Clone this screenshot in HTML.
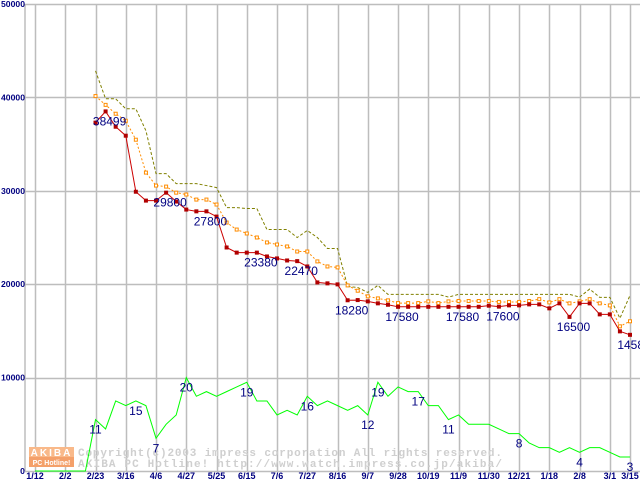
<!DOCTYPE html>
<html><head><meta charset="utf-8"><style>
html,body{margin:0;padding:0;background:#fff;width:640px;height:480px;overflow:hidden}
svg{display:block}
</style></head><body>
<svg id="chart" width="640" height="480" xmlns="http://www.w3.org/2000/svg"></svg>
<script>
const xLabels=["1/12","2/2","2/23","3/16","4/6","4/27","5/25","6/15","7/6","7/27","8/16","9/7","9/28","10/19","11/9","11/30","12/21","1/18","2/8","3/1","3/15"];
const xLabelIdx=[0,3,6,9,12,15,18,21,24,27,30,33,36,39,42,45,48,51,54,57,59];
const yTicks=[0,10000,20000,30000,40000,50000];
const minPrice=[null,null,null,null,null,null,37300,38499,36860,35900,29900,28950,28950,29800,28850,27990,27800,27800,27240,23930,23380,23380,23380,22970,22760,22540,22470,21900,20190,20090,19980,18280,18300,18160,17950,17800,17580,17580,17580,17580,17580,17580,17580,17580,17580,17700,17600,17735,17735,17840,17840,17415,17950,16500,17950,17950,16770,16770,14950,14580];
const avgPrice=[null,null,null,null,null,null,40140,39200,38250,37500,35470,31950,30560,30450,29800,29600,29060,29060,28530,26600,25850,25430,25000,24470,24250,24040,23500,23500,22440,21900,21800,19870,19300,18700,18480,18270,17980,17980,17980,18160,17980,18160,18200,18200,18200,18200,18100,18100,18100,18200,18400,18050,18400,17950,18160,18400,17950,17730,15490,16030];
const maxPrice=[null,null,null,null,null,null,42840,39850,39850,38780,38780,36430,31840,31840,30770,30770,30770,30560,30340,28200,28200,28100,28100,25850,25850,25850,25000,25750,25000,23820,23820,19760,19650,19120,19870,18910,18910,18910,18910,18910,18910,18620,18910,18910,18910,18910,18910,18910,18910,18910,18910,18910,18910,18910,18620,19480,18590,18590,16350,18800];
const shopCount=[0,0,0,0,0,0,11,9,15,14,15,14,7,10,12,20,16,17,16,17,18,19,15,15,12,13,12,16,14,15,14,13,14,12,19,16,18,17,17,14,14,11,12,10,10,10,9,8,8,6,5,5,4,5,4,5,5,4,3,3];
const priceLabelIdx=[7,13,17,22,26,31,36,42,46,53,59];
const countLabelIdx=[6,10,12,15,21,27,33,34,38,41,48,54,59];

const NS="http://www.w3.org/2000/svg";
const svg=document.getElementById('chart');
const X0=35,X1=630,N=60,Y0=471,Y1=4,YMAX=50000;
function xs(i){return X0+i*(X1-X0)/(N-1);}
function ys(v){return Y0-(v/YMAX)*(Y0-Y1);}
function yc(c){return ys(c*500);}
function mk(tag,attrs,parent){const e=document.createElementNS(NS,tag);for(const k in attrs)e.setAttribute(k,attrs[k]);(parent||svg).appendChild(e);return e;}

const grid=mk('g',{});


mk('line',{x1:25,y1:Y1,x2:25,y2:Y0,stroke:'#bdbdbd','stroke-width':1.5},grid);
yTicks.forEach(v=>{const y=Math.round(ys(v))+0.5;mk('line',{x1:25,y1:y,x2:640,y2:y,stroke:'#bdbdbd','stroke-width':1.5},grid);});
xLabelIdx.forEach(i=>{const x=Math.round(xs(i))+0.5;mk('line',{x1:x,y1:Y1,x2:x,y2:Y0,stroke:'#bdbdbd','stroke-width':1.5},grid);});

const yl=mk('g',{'font-family':'Liberation Sans, sans-serif','font-size':'8','font-weight':'bold',fill:'#000080','text-anchor':'start'});


yTicks.forEach(v=>{const s=String(v);const w=s.length*4.8;const t=mk('text',{x:25-w,y:ys(v)+3,textLength:w,lengthAdjust:'spacingAndGlyphs'},yl);t.textContent=s;});
const xl=mk('g',{'font-family':'Liberation Sans, sans-serif','font-size':'9','font-weight':'bold',fill:'#000080','text-anchor':'middle'});


xLabelIdx.forEach((i,k)=>{const t=mk('text',{x:xs(i),y:479},xl);t.textContent=xLabels[k];});

// watermark
const wm=mk('g',{});


mk('rect',{x:29,y:447,width:45,height:20,fill:'#f9b98a'},wm);
mk('rect',{x:29,y:457,width:45,height:10,fill:'#f4a06a'},wm);
const lg1=mk('text',{x:51.5,y:456,'font-family':'Liberation Sans, sans-serif','font-size':'10','font-weight':'bold',fill:'#fff','text-anchor':'middle','letter-spacing':'2'},wm);lg1.textContent='AKIBA';
const lg2=mk('text',{x:51.5,y:465,'font-family':'Liberation Sans, sans-serif','font-size':'7','font-weight':'bold',fill:'#fff','text-anchor':'middle'},wm);lg2.textContent='PC Hotline!';
const c1=mk('text',{x:78,y:456,'font-family':'Liberation Mono, monospace','font-size':'11','font-weight':'bold',fill:'#cfcfcf',textLength:424,lengthAdjust:'spacing'},wm);c1.textContent='Copyright(c)2003 impress corporation All rights reserved.';
const c2=mk('text',{x:78,y:467,'font-family':'Liberation Mono, monospace','font-size':'11','font-weight':'bold',fill:'#cfcfcf',textLength:424,lengthAdjust:'spacing'},wm);c2.textContent='AKIBA PC Hotline!  http://www.watch.impress.co.jp/akiba/';

function pts(arr,f){return arr.map((v,i)=>v==null?null:[xs(i),f(v)]).filter(p=>p);}
function poly(arr,f,attrs,name){const p=mk('polyline',Object.assign({points:pts(arr,f).map(q=>q.join(',')).join(' '),fill:'none'},attrs));return p;}

poly(shopCount,yc,{stroke:'#00ff00','stroke-width':1},'shop-count-line');
poly(maxPrice,ys,{stroke:'#808000','stroke-width':1,'stroke-dasharray':'3,2'},'max-price-line');
poly(avgPrice,ys,{stroke:'#ff8c00','stroke-width':1,'stroke-dasharray':'2,2'},'avg-price-line');
const ag=mk('g',{});


pts(avgPrice,ys).forEach(p=>mk('rect',{x:p[0]-1.5,y:p[1]-1.5,width:3,height:3,fill:'#fff',stroke:'#ff8c00','stroke-width':1},ag));
poly(minPrice,ys,{stroke:'#cc0000','stroke-width':1},'min-price-line');
const mg=mk('g',{});


pts(minPrice,ys).forEach(p=>mk('rect',{x:p[0]-2,y:p[1]-2,width:4,height:4,fill:'#b00000'},mg));

const lbl=mk('g',{'font-family':'Liberation Sans, sans-serif','font-size':'12',fill:'#000080','text-anchor':'middle'});


priceLabelIdx.forEach(i=>{const t=mk('text',{x:xs(i)+4,y:ys(minPrice[i])+14},lbl);t.textContent=String(minPrice[i]);});
countLabelIdx.forEach(i=>{const t=mk('text',{x:xs(i),y:yc(shopCount[i])+14},lbl);t.textContent=String(shopCount[i]);});
</script>
</body></html>
